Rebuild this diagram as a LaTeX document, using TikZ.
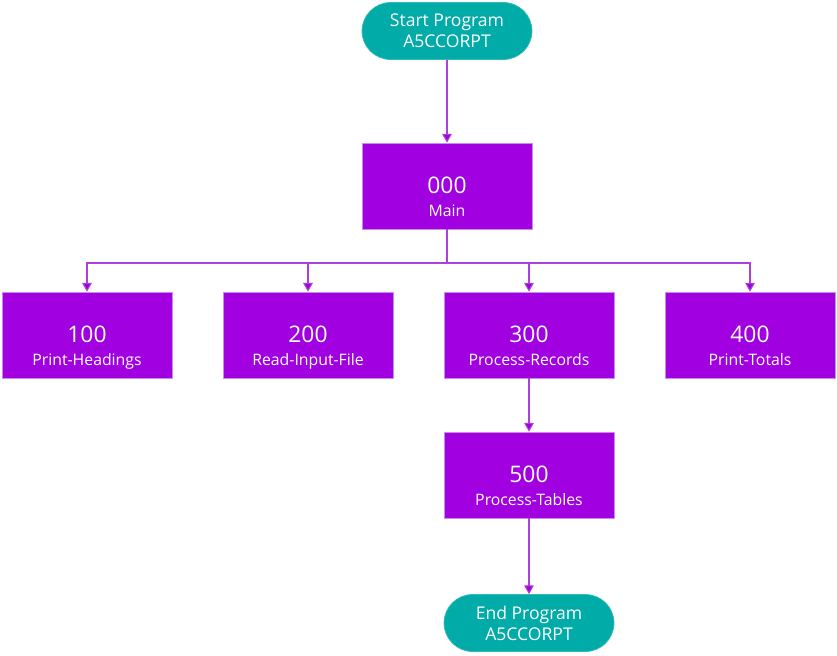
\documentclass[tikz,border=0pt]{standalone}
\usepackage{fontspec}
\setmainfont{Open Sans}
\usetikzlibrary{arrows.meta, positioning}

\definecolor{termteal}{RGB}{0,171,168}
\definecolor{boxpurple}{RGB}{161,0,224}
\definecolor{boxedge}{RGB}{200,140,240}
\definecolor{linkpurple}{RGB}{172,64,220}

\newcommand{\modtext}[2]{{\fontsize{13}{16}\selectfont\rule{0pt}{24.5pt}#1}\\[1pt]{\fontsize{9}{11}\selectfont #2\rule[-3pt]{0pt}{3pt}}}
\newcommand{\termtext}[2]{\fontsize{10}{13}\selectfont #1\\#2}

\tikzset{
    module/.style = {rectangle, fill=boxpurple, draw=boxedge, line width=0.4pt,
        text=white, align=center, minimum width=3.4cm, minimum height=1.72cm,
        inner sep=0pt},
    terminal/.style = {rectangle, rounded corners=0.57cm, fill=termteal, draw=termteal!80!white,
        text=white, align=center, minimum width=3.4cm, minimum height=1.14cm, inner sep=0pt},
    link/.style = {draw=linkpurple, line width=0.6pt,
        -{Triangle[length=5pt, width=5.5pt, fill=boxpurple]}}
}

\begin{document}
\begin{tikzpicture}[x=0.02cm, y=-0.02cm]
    \useasboundingbox (0,0) rectangle (837,655);

    \node (start) [terminal] at (447,31) {\termtext{Start Program}{A5CCORPT}};
    \node (main) [module] at (447,186) {\modtext{000}{Main}};
    \node (p100) [module] at (87,335) {\modtext{100}{Print-Headings}};
    \node (p200) [module] at (308,335) {\modtext{200}{Read-Input-File}};
    \node (p300) [module] at (529,335) {\modtext{300}{Process-Records}};
    \node (p400) [module] at (750,335) {\modtext{400}{Print-Totals}};
    \node (p500) [module] at (529,475) {\modtext{500}{Process-Tables}};
    \node (end) [terminal] at (529,623) {\termtext{End Program}{A5CCORPT}};

    \coordinate (bus) at (447,263);

    \path [link]
        (start) edge (main)
        (p300) edge (p500)
        (p500) edge (end);
    \draw [link] (main.south) -- (bus) -| (p100.north);
    \draw [link] (main.south) -- (bus) -| (p200.north);
    \draw [link] (main.south) -- (bus) -| (p300.north);
    \draw [link] (main.south) -- (bus) -| (p400.north);
\end{tikzpicture}
\end{document}
